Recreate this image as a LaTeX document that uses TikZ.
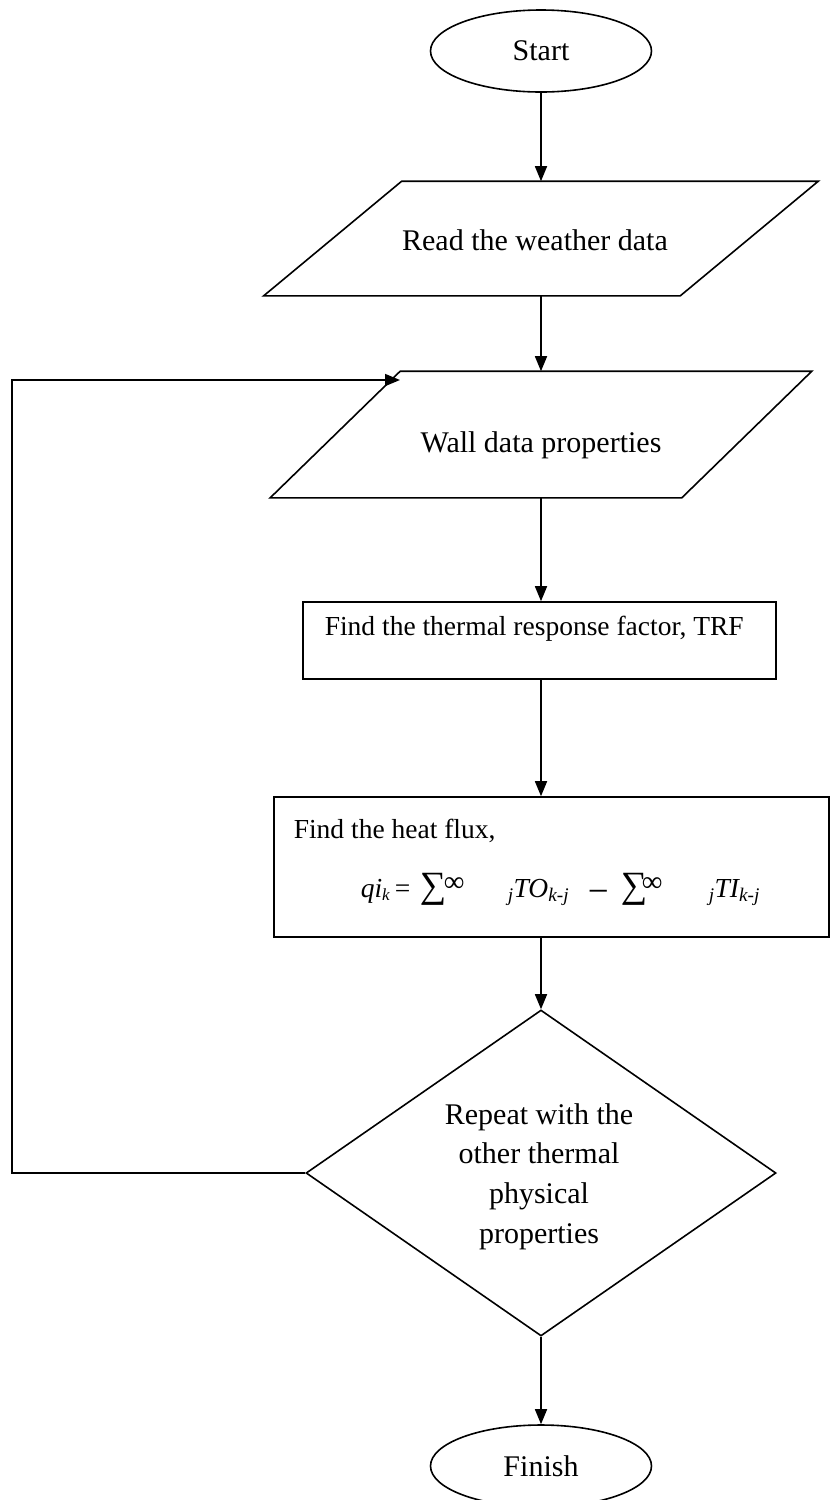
\documentclass[tikz,border=0pt]{standalone}
\usepackage{fontspec}
\setmainfont{Liberation Serif}
\usetikzlibrary{shapes.geometric,arrows.meta,calc}
\begin{document}
\begin{tikzpicture}[x=1pt,y=-1pt,line width=1.6pt,
  >={Triangle[length=15pt,width=12pt]},
  term/.style={draw,ellipse,minimum width=221pt,minimum height=82pt,inner sep=0pt,font=\fontsize{30pt}{36pt}\selectfont},
  frame/.style={rectangle,inner sep=0pt},
  boxed/.style={draw,rectangle,inner sep=0pt},
  txt/.style={inner sep=0pt,font=\fontsize{30pt}{39.7pt}\selectfont},
  txts/.style={inner sep=0pt,font=\fontsize{27.5pt}{33pt}\selectfont},
  sumsym/.style={inner sep=0pt,font=\fontsize{37pt}{37pt}\selectfont},
  infsym/.style={inner sep=0pt,font=\fontsize{29pt}{29pt}\selectfont},
  arr/.style={->}]
\useasboundingbox (0,0) rectangle (831,1500);
% terminals
\node[term] (start) at (541,51) {Start};
% parallelogram 1
\node[frame,minimum width=415pt,minimum height=113pt] (p1) at (541,238.5) {};
\draw ($(p1.north west)+(69,0)$) -- ($(p1.north east)+(69,0)$) -- ($(p1.south east)+(-69,0)$) -- ($(p1.south west)+(-69,0)$) -- cycle;
\node[txt,anchor=base] (t1) at (535,250) {Read the weather data};
% parallelogram 2
\node[frame,minimum width=410pt,minimum height=125pt] (p2) at (541,434.5) {};
\draw ($(p2.north west)+(65,0)$) -- ($(p2.north east)+(65,0)$) -- ($(p2.south east)+(-65,0)$) -- ($(p2.south west)+(-65,0)$) -- cycle;
\node[txt,anchor=base] (t2) at (541,452) {Wall data properties};
% rectangle 1
\node[boxed,minimum width=473pt,minimum height=77pt] (r1) at (539.5,640.5) {};
\node[txts,anchor=base west] (t3) at (324,635) {Find the thermal response factor, TRF};
% rectangle 2
\node[boxed,minimum width=555pt,minimum height=140pt] (r2) at (551.5,867) {};
\node[txts,anchor=base west] (t4) at (293,838) {Find the heat flux,};
\node[txts,anchor=base west] (f1) at (360,897) {\itshape qi\textsubscript{\fontsize{17pt}{17pt}\selectfont k}};
\node[txts,anchor=base west] (f2) at (394,897) {=};
\node[sumsym,anchor=base west] (f3) at (419,897) {∑};
\node[infsym,anchor=base west] (f3i) at (443,891) {∞};
\node[txts,anchor=base west] (f4) at (507,897) {\itshape \textsubscript{j}TO\textsubscript{k-j}};
\node[sumsym,anchor=base west] (f5) at (587,903) {−};
\node[sumsym,anchor=base west] (f6) at (620,897) {∑};
\node[infsym,anchor=base west] (f6i) at (641,891) {∞};
\node[txts,anchor=base west] (f7) at (708,897) {\itshape \textsubscript{j}TI\textsubscript{k-j}};
% decision
\node[draw,diamond,minimum width=470pt,minimum height=326pt,inner sep=0pt] (d) at (541,1173) {};
\node[txt,align=center] (t5) at (539,1176.5) {Repeat with the\\other thermal\\physical\\properties};
% finish
\node[term] (fin) at (541,1466) {Finish};
% connectors
\coordinate (fbx) at (12,0);
\coordinate (fbend) at (400,380);
\draw[arr] (start.south) -- (p1.north);
\draw[arr] (p1.south) -- (p2.north);
\draw[arr] (p2.south) -- (p2.south |- r1.north);
\draw[arr] (p2.south |- r1.south) -- (p2.south |- r2.north);
\draw[arr] (p2.south |- r2.south) -- (d.north);
\draw[arr] (d.south) -- (fin.north);
\draw[arr] (d.west) -- (d.west -| fbx) -- (fbx |- fbend) -- (fbend);
\end{tikzpicture}
\end{document}
